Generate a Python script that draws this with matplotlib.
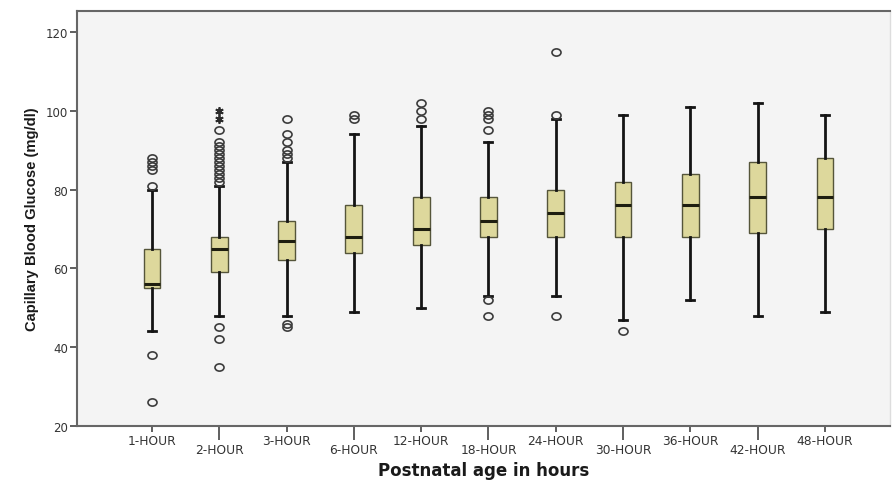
"""Capillary blood glucose by postnatal age, box plot."""

import matplotlib

matplotlib.use("Agg")
import matplotlib.pyplot as plt
from matplotlib import font_manager
from matplotlib.path import Path
from matplotlib.transforms import Affine2D

# ---- data ----
ages = ["1-HOUR", "2-HOUR", "3-HOUR", "6-HOUR", "12-HOUR", "18-HOUR",
        "24-HOUR", "30-HOUR", "36-HOUR", "42-HOUR", "48-HOUR"]
q1 = [55, 59, 62, 64, 66, 68, 68, 68, 68, 69, 70]
median = [56, 65, 67, 68, 70, 72, 74, 76, 76, 78, 78]
q3 = [65, 68, 72, 76, 78, 78, 80, 82, 84, 87, 88]
whisker_low = [44, 48, 48, 49, 50, 53, 53, 47, 52, 48, 49]
whisker_high = [80, 81, 87, 94, 96, 92, 98, 99, 101, 102, 99]
outliers = [
    [26, 38, 81, 85, 86, 87, 88],
    [35, 42, 45, 82, 83, 84, 85, 86, 87, 88, 89, 90, 91, 92, 95],
    [45, 46, 88, 89, 90, 92, 94, 98],
    [98, 99],
    [98, 100, 102],
    [48, 52, 95, 98, 99, 100],
    [48, 99, 115],
    [44],
    [],
    [],
    [],
]
extremes = [[], [98, 100], [], [], [], [], [], [], [], [], []]

names = {f.name for f in font_manager.fontManager.ttflist}
narrow = "Liberation Sans Narrow" if "Liberation Sans Narrow" in names else None

# slightly flattened circle, like the SPSS outlier symbol
oval = Path.unit_circle().transformed(Affine2D().scale(1.25, 1.0))

fig = plt.figure(figsize=(8.94, 4.85), dpi=100)
ax = fig.add_axes([0.0861, 0.1196, 0.9094, 0.8557])
ax.set_facecolor("#f4f4f4")

positions = list(range(1, len(ages) + 1))
stats = []
for i, name in enumerate(ages):
    stats.append({
        "label": name,
        "q1": q1[i], "med": median[i], "q3": q3[i],
        "whislo": whisker_low[i], "whishi": whisker_high[i],
        "fliers": [],
    })

ax.bxp(stats, positions=positions, widths=0.25, patch_artist=True,
       showfliers=False, capwidths=0.12,
       boxprops=dict(facecolor="#ddd89c", edgecolor="#55553a", linewidth=1.0),
       medianprops=dict(color="#1e1e10", linewidth=2.2),
       whiskerprops=dict(color="#141414", linewidth=2.0),
       capprops=dict(color="#141414", linewidth=2.0))

for pos, vals in zip(positions, outliers):
    if vals:
        ax.plot([pos] * len(vals), vals, linestyle="none", marker=oval,
                markersize=6.5, markerfacecolor="none",
                markeredgecolor="#3c3c3c", markeredgewidth=1.2)
for pos, vals in zip(positions, extremes):
    if vals:
        ax.plot([pos] * len(vals), vals, linestyle="none", marker=(6, 2, 0),
                markersize=6, color="#2a2a2a", markeredgewidth=1.3)

ax.set_ylim(20, 125.3)
ax.set_yticks([20, 40, 60, 80, 100, 120])
ax.set_xlim(-0.114, 11.966)

# staggered category labels: odd ones on top row, even ones with long ticks
ax.set_xticks(positions[::2], ages[::2])
ax.set_xticks(positions[1::2], ages[1::2], minor=True)
ax.tick_params(axis="x", which="major", length=4, width=1.2, pad=2,
               color="#444444", labelsize=8.8, labelcolor="#333333")
ax.tick_params(axis="x", which="minor", length=10, width=1.2, pad=2.5,
               color="#444444", labelsize=8.8, labelcolor="#333333")
ax.tick_params(axis="y", length=5, width=1.2, pad=1.5, color="#444444",
               labelsize=8.5, labelcolor="#333333")
for lab in ax.get_xticklabels(minor=False) + ax.get_xticklabels(minor=True):
    lab.set_family("DejaVu Sans")
for lab in ax.get_yticklabels():
    lab.set_family("DejaVu Sans")

for side in ["left", "bottom", "top"]:
    ax.spines[side].set_color("#666666")
    ax.spines[side].set_linewidth(1.5)
ax.spines["right"].set_color("#dddddd")
ax.spines["right"].set_linewidth(1.0)

ax.set_xlabel("Postnatal age in hours", fontsize=12, fontweight="bold",
              family="DejaVu Sans", color="#1a1a1a", labelpad=3)
if narrow:
    ax.set_ylabel("Capillary Blood Glucose (mg/dl)", fontsize=12.5,
                  fontweight="bold", family=narrow, color="#1a1a1a", labelpad=6)
else:
    ax.set_ylabel("Capillary Blood Glucose (mg/dl)", fontsize=10.6,
                  fontweight="bold", family="Liberation Sans", color="#1a1a1a",
                  labelpad=5)

fig.savefig("out.png", dpi=100, facecolor="white")
